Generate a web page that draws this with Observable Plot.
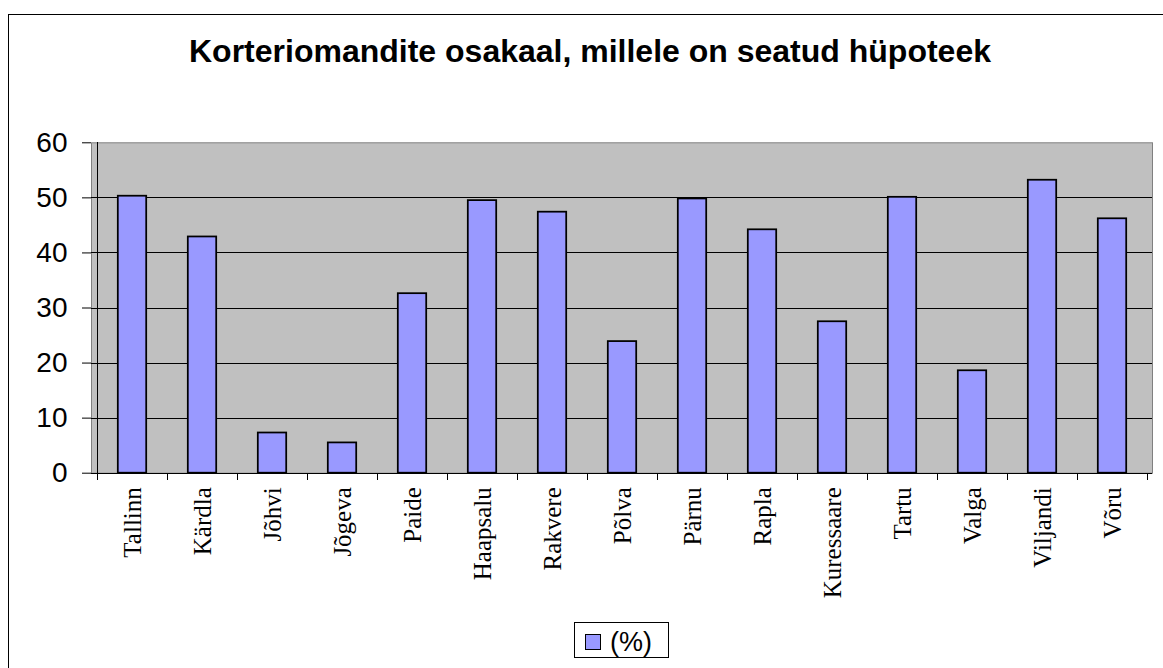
<!DOCTYPE html>
<html><head><meta charset="utf-8">
<script src="https://cdn.jsdelivr.net/npm/d3@7"></script>
<script src="https://cdn.jsdelivr.net/npm/@observablehq/plot@0.6"></script>
<style>
html,body{margin:0;padding:0;background:#fff;}
#wrap{position:relative;width:1163px;height:668px;overflow:hidden;font-family:"Liberation Sans",Arial,sans-serif;color:#000;}
#border{position:absolute;left:8px;top:14px;width:1300px;height:800px;border-top:1px solid #000;border-left:1px solid #000;pointer-events:none;}
#title{height:110px;box-sizing:border-box;padding-top:35px;padding-left:17px;text-align:center;font-weight:bold;font-size:32px;line-height:32px;white-space:nowrap;}
#chart{height:500px;}
#legend{margin-left:574px;margin-top:12px;width:95px;height:36px;box-sizing:border-box;border:1px solid #000;display:flex;align-items:center;padding-left:10px;padding-top:4px;}
#legend .sw{width:16px;height:16px;box-sizing:border-box;background:#9999ff;border:1.5px solid #000;margin-right:9px;}
#legend .lt{font-size:27px;line-height:27px;}
</style>
</head><body>
<div id="wrap">
  <div id="title"></div>
  <div id="chart"></div>
  <div id="legend"><div class="sw"></div><div class="lt"></div></div>
  <div id="border"></div>
</div>
<script>
const title = "Korteriomandite osakaal, millele on seatud hüpoteek";
const seriesName = "(%)";
const cities = ["Tallinn","Kärdla","Jõhvi","Jõgeva","Paide","Haapsalu","Rakvere","Põlva","Pärnu","Rapla","Kuressaare","Tartu","Valga","Viljandi","Võru"];
const values = [50.3, 42.9, 7.3, 5.5, 32.6, 49.5, 47.4, 23.9, 49.8, 44.2, 27.5, 50.1, 18.6, 53.2, 46.2];
const yTicks = [0, 10, 20, 30, 40, 50, 60];

document.getElementById("title").textContent = title;
document.querySelector("#legend .lt").textContent = seriesName;

const data = cities.map((city, i) => ({city, value: values[i]}));

// axis lines and category boundary ticks, drawn from the band scale
function axisLines(index, scales, values, dimensions) {
  const x = scales.x, y = scales.y;
  const step = x(cities[1]) - x(cities[0]);
  const g = d3.create("svg:g");
  const y0 = y(0), yTop = y(60);
  const left = x(cities[0]);
  g.append("line").attr("x1", left).attr("x2", left).attr("y1", yTop).attr("y2", y0)
    .attr("stroke", "#000").attr("stroke-width", 1).attr("shape-rendering", "crispEdges");
  const bounds = cities.map(c => x(c)).concat([x(cities[cities.length - 1]) + step]);
  for (const b of bounds) {
    g.append("line").attr("x1", b).attr("x2", b).attr("y1", y0).attr("y2", y0 + 7)
      .attr("stroke", "#000").attr("stroke-width", 1).attr("shape-rendering", "crispEdges");
  }
  return g.node();
}

const plot = Plot.plot({
  width: 1163,
  height: 500,
  marginTop: 32.3,
  marginBottom: 137.3,
  marginLeft: 91,
  marginRight: 11,
  style: {background: "transparent", overflow: "visible", color: "#000"},
  x: {type: "band", domain: cities, padding: 0, label: null},
  y: {domain: [0, 60], label: null},
  marks: [
    Plot.frame({fill: "#c0c0c0", stroke: "#808080"}),
    Plot.ruleY(yTicks.filter(t => t > 0 && t < 60), {stroke: "#000", strokeWidth: 1, shapeRendering: "crispEdges"}),
    Plot.barY(data, {x: "city", y: "value", fill: "#9999ff", stroke: "#000", strokeWidth: 1.75, insetLeft: 20.8, insetRight: 20.8}),
    Plot.ruleY([0], {stroke: "#000", strokeWidth: 1, shapeRendering: "crispEdges"}),
    axisLines,
    Plot.axisY({ticks: yTicks, tickSize: 9, tickPadding: 15, fontSize: 28, fontFamily: "Liberation Sans, Arial, sans-serif", label: null, stroke: "#000"}),
    Plot.axisX({tickRotate: -90, tickSize: 0, tickPadding: 14, fontSize: 25, fontFamily: "Liberation Serif, Times New Roman, serif", label: null})
  ]
});
document.getElementById("chart").appendChild(plot);
</script>
</body></html>
